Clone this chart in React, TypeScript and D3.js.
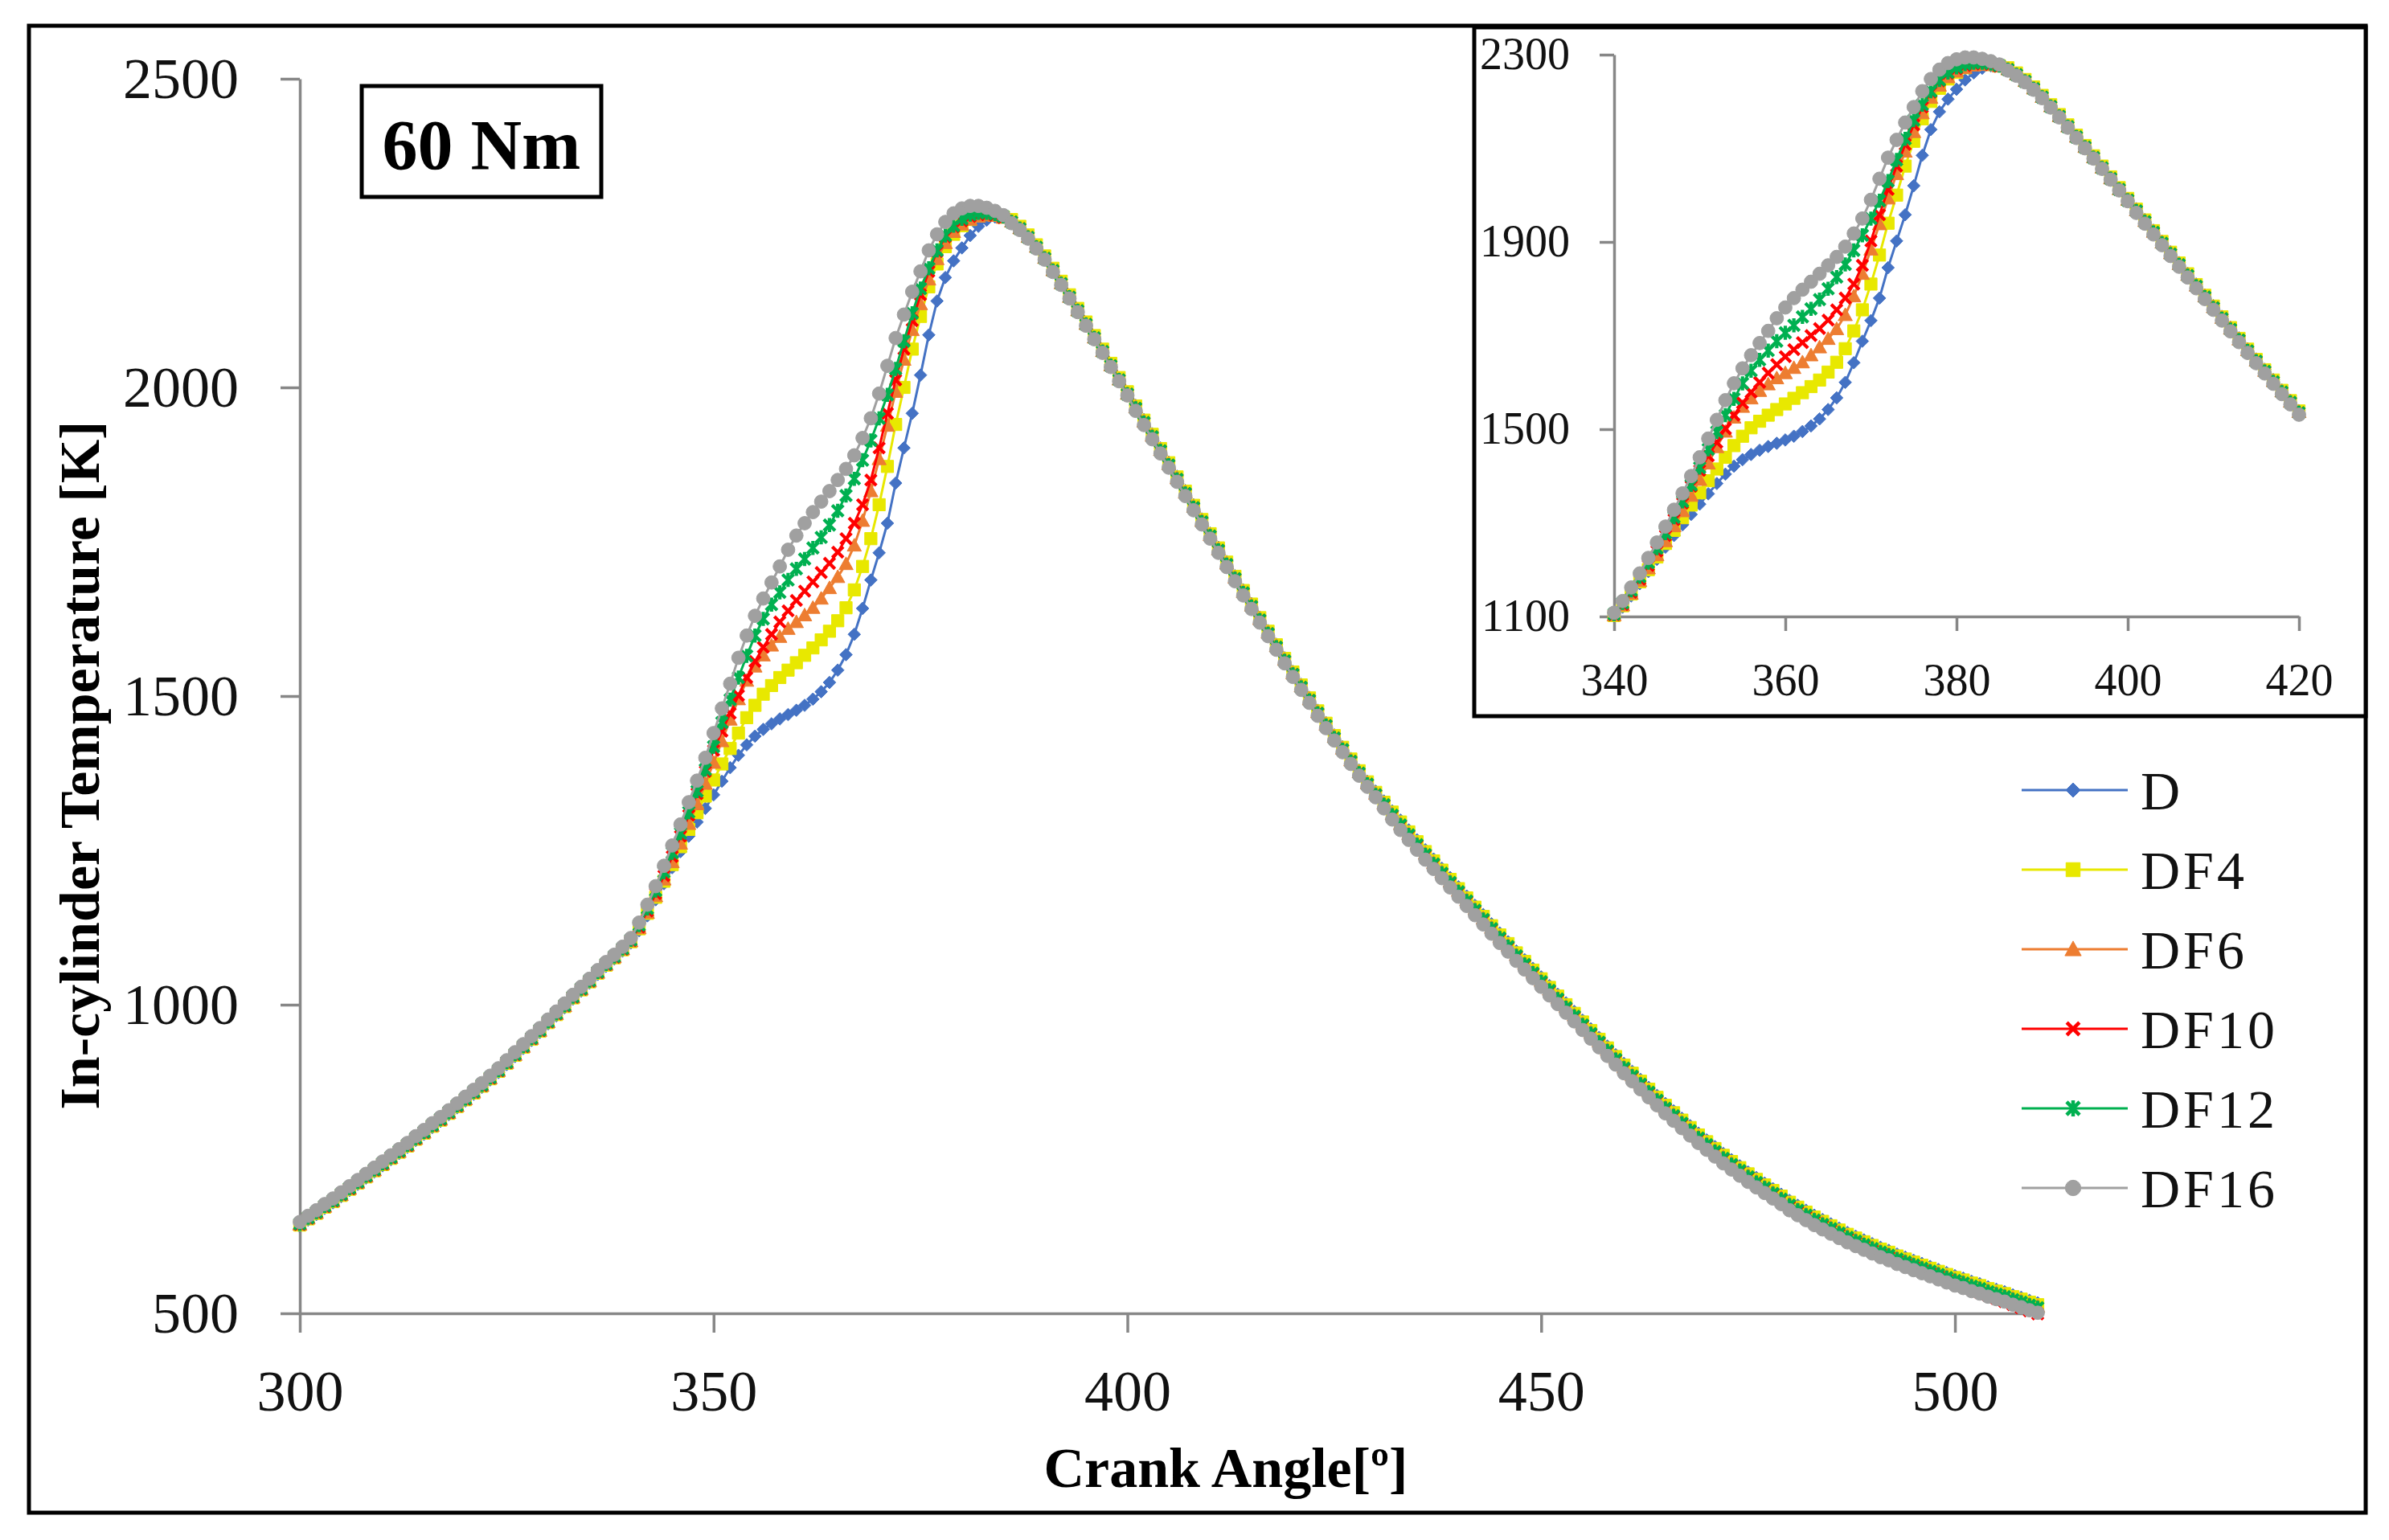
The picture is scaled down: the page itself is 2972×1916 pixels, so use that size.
import { useEffect, useRef } from "react";
import * as d3 from "d3";

// ---------------------------------------------------------------------------
// Data: in-cylinder temperature [K] per crank angle degree, 300 → 510
// ---------------------------------------------------------------------------

const CRANK_ANGLES = d3.range(300, 511);

const D = [
  641, 651, 660, 670, 679, 689, 699, 709, 719, 729,
  739, 749, 759, 769, 780, 790, 801, 811, 822, 833,
  844, 855, 866, 878, 890, 903, 916, 929, 942, 955,
  969, 982, 995, 1009, 1022, 1035, 1049, 1062, 1074, 1087,
  1100, 1120, 1144, 1170, 1196, 1222, 1248, 1273, 1296, 1318,
  1340, 1362, 1384, 1404, 1421, 1435, 1446, 1455, 1463, 1470,
  1477, 1485, 1495, 1507, 1522, 1542, 1567, 1600, 1642, 1688,
  1732, 1780, 1845, 1902, 1958, 2020, 2085, 2140, 2178, 2205,
  2226, 2246, 2261, 2271, 2276, 2276, 2270, 2259, 2245, 2229,
  2211, 2191, 2170, 2148, 2126, 2104, 2082, 2060, 2037, 2014,
  1991, 1971, 1948, 1925, 1902, 1879, 1856, 1833, 1810, 1787,
  1764, 1741, 1718, 1695, 1672, 1650, 1628, 1606, 1584, 1562,
  1540, 1519, 1498, 1477, 1457, 1437, 1418, 1399, 1380, 1362,
  1346, 1330, 1314, 1299, 1283, 1267, 1251, 1236, 1221, 1206,
  1191, 1176, 1161, 1146, 1131, 1116, 1102, 1087, 1073, 1059,
  1045, 1031, 1017, 1003, 989, 975, 961, 947, 933, 919,
  905, 892, 879, 866, 853, 840, 828, 816, 804, 792,
  781, 770, 759, 749, 739, 729, 720, 711, 702, 693,
  683, 675, 667, 659, 652, 645, 638, 631, 625, 619,
  613, 607, 602, 596, 591, 586, 581, 576, 571, 566,
  561, 557, 552, 548, 543, 539, 535, 530, 526, 521, 517,
];

const DF4 = [
  643, 653, 662, 672, 681, 691, 701, 711, 721, 731,
  741, 751, 761, 771, 782, 792, 803, 813, 824, 835,
  846, 857, 868, 880, 892, 905, 918, 931, 944, 957,
  971, 984, 997, 1011, 1024, 1037, 1051, 1064, 1076, 1089,
  1102, 1123, 1148, 1174, 1200, 1227, 1256, 1284, 1311, 1338,
  1364, 1390, 1415, 1440, 1465, 1485, 1503, 1517, 1530, 1542,
  1554, 1566, 1578, 1591, 1605, 1622, 1643, 1672, 1710, 1755,
  1810, 1872, 1940, 2000, 2062, 2115, 2163, 2200, 2228, 2248,
  2262, 2272, 2278, 2280, 2279, 2276, 2272, 2261, 2247, 2231,
  2213, 2193, 2172, 2150, 2128, 2106, 2084, 2062, 2039, 2016,
  1993, 1970, 1947, 1924, 1901, 1878, 1855, 1832, 1809, 1786,
  1763, 1740, 1717, 1694, 1671, 1649, 1627, 1605, 1583, 1561,
  1539, 1518, 1497, 1476, 1456, 1436, 1417, 1398, 1379, 1361,
  1344, 1328, 1312, 1296, 1280, 1264, 1248, 1233, 1218, 1203,
  1188, 1173, 1158, 1143, 1128, 1113, 1099, 1084, 1070, 1056,
  1042, 1028, 1014, 1000, 986, 972, 958, 944, 930, 916,
  902, 889, 876, 863, 850, 837, 825, 813, 801, 789,
  778, 767, 756, 746, 736, 726, 717, 708, 699, 690,
  680, 672, 664, 656, 649, 642, 635, 628, 622, 616,
  610, 604, 599, 593, 588, 583, 578, 573, 568, 563,
  558, 554, 549, 545, 540, 536, 532, 527, 523, 518, 514,
];

const DF6 = [
  644, 654, 663, 673, 682, 692, 702, 712, 722, 732,
  742, 752, 762, 772, 783, 793, 804, 814, 825, 836,
  847, 858, 869, 881, 893, 906, 919, 932, 945, 958,
  972, 985, 998, 1012, 1025, 1038, 1052, 1065, 1077, 1090,
  1103, 1124, 1149, 1176, 1203, 1231, 1261, 1293, 1325, 1358,
  1392, 1427, 1462, 1495, 1525, 1548, 1566, 1582, 1596, 1609,
  1620, 1631, 1643, 1658, 1675, 1693, 1714, 1744, 1784, 1832,
  1884, 1938, 1993, 2045, 2093, 2135, 2175, 2208, 2234, 2252,
  2264, 2272, 2277, 2279, 2278, 2275, 2269, 2258, 2244, 2228,
  2210, 2190, 2169, 2147, 2125, 2103, 2081, 2059, 2036, 2013,
  1990, 1968, 1945, 1922, 1899, 1876, 1853, 1830, 1807, 1784,
  1761, 1738, 1715, 1692, 1669, 1647, 1625, 1603, 1581, 1559,
  1537, 1516, 1495, 1474, 1454, 1434, 1415, 1396, 1377, 1359,
  1342, 1326, 1309, 1293, 1277, 1261, 1245, 1230, 1215, 1200,
  1185, 1170, 1155, 1140, 1125, 1110, 1096, 1081, 1067, 1053,
  1039, 1025, 1011, 997, 983, 969, 955, 941, 927, 913,
  899, 886, 873, 860, 847, 834, 822, 810, 798, 786,
  775, 764, 753, 743, 733, 723, 714, 705, 696, 687,
  677, 669, 661, 653, 646, 639, 632, 625, 619, 613,
  607, 601, 596, 590, 585, 580, 575, 570, 565, 560,
  555, 551, 546, 542, 537, 533, 529, 524, 520, 515, 511,
];

const DF10 = [
  644, 654, 663, 673, 682, 692, 702, 712, 722, 732,
  742, 752, 762, 772, 783, 793, 804, 814, 825, 836,
  847, 858, 869, 881, 893, 906, 919, 932, 945, 958,
  972, 985, 998, 1012, 1025, 1038, 1052, 1065, 1077, 1090,
  1104, 1126, 1152, 1180, 1209, 1240, 1273, 1307, 1342, 1378,
  1412, 1443, 1472, 1501, 1530, 1556, 1579, 1600, 1620, 1638,
  1655, 1670, 1685, 1700, 1715, 1733, 1755, 1780, 1810, 1850,
  1902, 1958, 2012, 2062, 2108, 2150, 2188, 2220, 2244, 2260,
  2270, 2277, 2280, 2281, 2279, 2275, 2268, 2257, 2243, 2227,
  2209, 2189, 2168, 2146, 2124, 2102, 2080, 2058, 2035, 2012,
  1989, 1966, 1943, 1920, 1897, 1874, 1851, 1828, 1805, 1782,
  1759, 1736, 1713, 1690, 1667, 1645, 1623, 1601, 1579, 1557,
  1535, 1514, 1493, 1472, 1452, 1432, 1413, 1394, 1375, 1357,
  1340, 1323, 1306, 1290, 1274, 1258, 1242, 1227, 1212, 1197,
  1182, 1167, 1152, 1137, 1122, 1107, 1093, 1078, 1064, 1050,
  1036, 1022, 1008, 994, 980, 966, 952, 938, 924, 910,
  896, 883, 870, 857, 844, 831, 819, 807, 795, 783,
  772, 761, 750, 740, 730, 720, 711, 702, 693, 684,
  673, 665, 657, 649, 642, 635, 628, 621, 615, 609,
  602, 596, 591, 585, 580, 575, 570, 565, 560, 555,
  549, 544, 539, 534, 529, 524, 519, 514, 509, 504, 499,
];

const DF12 = [
  645, 655, 664, 674, 683, 693, 703, 713, 723, 733,
  743, 753, 763, 773, 784, 794, 805, 815, 826, 837,
  848, 859, 870, 882, 894, 907, 920, 933, 946, 959,
  973, 986, 999, 1013, 1026, 1039, 1053, 1066, 1078, 1091,
  1105, 1129, 1156, 1185, 1215, 1246, 1278, 1312, 1346, 1381,
  1418, 1457, 1494, 1530, 1565, 1598, 1625, 1648, 1668, 1688,
  1706, 1722, 1740, 1757, 1777, 1800, 1825, 1852, 1882, 1914,
  1950, 1988, 2030, 2075, 2120, 2160, 2193, 2222, 2246, 2262,
  2273, 2280, 2283, 2283, 2281, 2277, 2268, 2257, 2243, 2227,
  2209, 2189, 2168, 2146, 2124, 2102, 2080, 2058, 2035, 2012,
  1989, 1966, 1943, 1920, 1897, 1874, 1851, 1828, 1805, 1782,
  1759, 1736, 1713, 1690, 1667, 1645, 1623, 1601, 1579, 1557,
  1535, 1514, 1493, 1472, 1452, 1432, 1413, 1394, 1375, 1357,
  1340, 1324, 1307, 1291, 1275, 1259, 1243, 1228, 1213, 1198,
  1183, 1168, 1153, 1138, 1123, 1108, 1094, 1079, 1065, 1051,
  1037, 1023, 1009, 995, 981, 967, 953, 939, 925, 911,
  897, 884, 871, 858, 845, 832, 820, 808, 796, 784,
  773, 762, 751, 741, 731, 721, 712, 703, 694, 685,
  675, 667, 659, 651, 644, 637, 630, 623, 617, 611,
  605, 599, 594, 588, 583, 578, 573, 568, 563, 558,
  553, 549, 544, 540, 535, 531, 527, 522, 518, 513, 509,
];

const DF16 = [
  648, 658, 667, 677, 686, 696, 706, 716, 726, 736,
  746, 756, 766, 776, 787, 797, 808, 818, 829, 840,
  851, 862, 873, 885, 897, 910, 923, 936, 949, 962,
  976, 989, 1002, 1016, 1029, 1042, 1056, 1069, 1081, 1094,
  1108, 1133, 1162, 1192, 1225, 1258, 1292, 1328, 1363, 1400,
  1440, 1480, 1520, 1562, 1598, 1630, 1658, 1684, 1710, 1737,
  1760, 1780, 1798, 1815, 1832, 1850, 1868, 1890, 1918, 1950,
  1990, 2035, 2080, 2118, 2155, 2188, 2222, 2248, 2268, 2282,
  2290, 2294, 2294, 2291, 2286, 2279, 2266, 2255, 2241, 2225,
  2207, 2187, 2166, 2144, 2122, 2100, 2078, 2056, 2033, 2010,
  1987, 1962, 1939, 1916, 1893, 1870, 1847, 1824, 1801, 1778,
  1755, 1732, 1709, 1686, 1663, 1641, 1619, 1597, 1575, 1553,
  1531, 1510, 1489, 1468, 1448, 1428, 1409, 1390, 1371, 1353,
  1336, 1318, 1300, 1283, 1267, 1251, 1235, 1220, 1205, 1190,
  1175, 1160, 1145, 1130, 1115, 1100, 1086, 1071, 1057, 1043,
  1029, 1015, 1001, 987, 973, 959, 945, 931, 917, 903,
  889, 876, 863, 850, 837, 824, 812, 800, 788, 776,
  765, 754, 743, 733, 723, 713, 704, 695, 686, 677,
  667, 659, 651, 643, 636, 629, 622, 615, 609, 603,
  597, 591, 586, 580, 575, 570, 565, 560, 555, 550,
  545, 541, 536, 532, 527, 523, 519, 514, 510, 505, 501,
];

const SERIES = [
  { name: "D", values: D, color: "#4472C4", marker: "diamond" },
  { name: "DF4", values: DF4, color: "#E8E800", marker: "square" },
  { name: "DF6", values: DF6, color: "#ED7D31", marker: "triangle" },
  { name: "DF10", values: DF10, color: "#FF0000", marker: "x" },
  { name: "DF12", values: DF12, color: "#00B050", marker: "star" },
  { name: "DF16", values: DF16, color: "#A0A0A0", marker: "circle" },
];

const MAIN_X_TICKS = [300, 350, 400, 450, 500];
const MAIN_Y_TICKS = [500, 1000, 1500, 2000, 2500];
const INSET_X_TICKS = [340, 360, 380, 400, 420];
const INSET_Y_TICKS = [1100, 1500, 1900, 2300];

const FONT = "'Liberation Serif', 'Times New Roman', serif";
const AXIS_GREY = "#878787";

// ---------------------------------------------------------------------------
// Marker shapes (Excel-like)
// ---------------------------------------------------------------------------

const STROKED = new Set(["x", "star"]);

function markerPath(kind: string, s: number): string {
  switch (kind) {
    case "diamond":
      return `M0,${-s}L${s},0L0,${s}L${-s},0Z`;
    case "square":
      return `M${-s},${-s}H${s}V${s}H${-s}Z`;
    case "triangle":
      return `M0,${-s}L${s},${s * 0.8}L${-s},${s * 0.8}Z`;
    case "x":
      return `M${-s},${-s}L${s},${s}M${s},${-s}L${-s},${s}`;
    case "star":
      return `M${-s},${-s}L${s},${s}M${s},${-s}L${-s},${s}M0,${-s * 1.25}V${s * 1.25}`;
    default:
      return d3.symbol(d3.symbolCircle, Math.PI * s * s)() ?? "";
  }
}

const MARKER_SIZE: Record<string, number> = {
  diamond: 7.8,
  square: 7.6,
  triangle: 8.8,
  x: 6.8,
  star: 7,
  circle: 8.4,
};

type Sel = d3.Selection<SVGGElement, unknown, null, undefined>;

function drawSeries(
  g: Sel,
  x: d3.ScaleLinear<number, number>,
  y: d3.ScaleLinear<number, number>,
  xMin: number,
  xMax: number
) {
  for (const s of SERIES) {
    const pts = CRANK_ANGLES.map((a, i) => [a, s.values[i]] as [number, number]).filter(
      (p) => p[0] >= xMin && p[0] <= xMax
    );
    const line = d3
      .line<[number, number]>()
      .x((d) => x(d[0]))
      .y((d) => y(d[1]));
    g.append("path")
      .attr("d", line(pts))
      .attr("fill", "none")
      .attr("stroke", s.color)
      .attr("stroke-width", 3);

    const stroked = STROKED.has(s.marker);
    g.append("g")
      .selectAll("path")
      .data(pts)
      .join("path")
      .attr("transform", (d) => `translate(${x(d[0])},${y(d[1])})`)
      .attr("d", markerPath(s.marker, MARKER_SIZE[s.marker]))
      .attr("fill", stroked ? "none" : s.color)
      .attr("stroke", s.color)
      .attr("stroke-width", stroked ? 4.2 : 1);
  }
}

function styleAxis(sel: Sel, fontSize: number) {
  sel.select(".domain").attr("stroke", AXIS_GREY).attr("stroke-width", 3.5);
  sel.selectAll(".tick line").attr("stroke", AXIS_GREY).attr("stroke-width", 3.5);
  sel
    .selectAll(".tick text")
    .attr("fill", "#111")
    .attr("font-size", fontSize)
    .attr("font-family", FONT);
}

export default function App() {
  const svgRef = useRef<SVGSVGElement>(null);

  useEffect(() => {
    document.body.style.margin = "0";
    const svg = d3.select(svgRef.current);
    svg.selectAll("*").remove();
    const root = svg.append("g") as unknown as Sel;
    const fmt = d3.format("d");

    root.append("rect").attr("width", 2972).attr("height", 1916).attr("fill", "#fff");

    // ---- Outer frame ----
    root
      .append("rect")
      .attr("x", 36)
      .attr("y", 32)
      .attr("width", 2907)
      .attr("height", 1850)
      .attr("fill", "none")
      .attr("stroke", "#000")
      .attr("stroke-width", 5);

    // ---- Main chart ----
    const x = d3.scaleLinear().domain([300, 510]).range([373, 2535]);
    const y = d3.scaleLinear().domain([500, 2500]).range([1634, 98]);

    root
      .append("g")
      .attr("transform", "translate(0,1634)")
      .call(
        d3
          .axisBottom(x)
          .tickValues(MAIN_X_TICKS)
          .tickFormat((d) => fmt(d as number))
          .tickSize(24)
          .tickSizeOuter(0)
          .tickPadding(46)
      )
      .call((sel) => styleAxis(sel as unknown as Sel, 72));

    root
      .append("g")
      .attr("transform", "translate(373,0)")
      .call(
        d3
          .axisLeft(y)
          .tickValues(MAIN_Y_TICKS)
          .tickFormat((d) => fmt(d as number))
          .tickSize(24)
          .tickSizeOuter(0)
          .tickPadding(52)
      )
      .call((sel) => styleAxis(sel as unknown as Sel, 72));

    root
      .append("text")
      .attr("x", 1525)
      .attr("y", 1850)
      .attr("text-anchor", "middle")
      .attr("font-family", FONT)
      .attr("font-weight", "bold")
      .attr("font-size", 70)
      .text("Crank Angle[º]");

    root
      .append("text")
      .attr("transform", "translate(123,952) rotate(-90)")
      .attr("text-anchor", "middle")
      .attr("font-family", FONT)
      .attr("font-weight", "bold")
      .attr("font-size", 70)
      .text("In-cylinder Temperature [K]");

    drawSeries(root.append("g") as unknown as Sel, x, y, 300, 510);

    // ---- Load label ----
    root
      .append("rect")
      .attr("x", 450)
      .attr("y", 107)
      .attr("width", 298)
      .attr("height", 138)
      .attr("fill", "#fff")
      .attr("stroke", "#000")
      .attr("stroke-width", 5);
    root
      .append("text")
      .attr("x", 599)
      .attr("y", 210)
      .attr("text-anchor", "middle")
      .attr("font-family", FONT)
      .attr("font-weight", "bold")
      .attr("font-size", 88)
      .text("60 Nm");

    // ---- Legend ----
    const legend = root.append("g");
    SERIES.forEach((s, i) => {
      const ly = 983 + i * 99;
      legend
        .append("line")
        .attr("x1", 2515)
        .attr("x2", 2647)
        .attr("y1", ly)
        .attr("y2", ly)
        .attr("stroke", s.color)
        .attr("stroke-width", 3);
      const stroked = STROKED.has(s.marker);
      legend
        .append("path")
        .attr("transform", `translate(2579,${ly})`)
        .attr("d", markerPath(s.marker, MARKER_SIZE[s.marker] * 1.15))
        .attr("fill", stroked ? "none" : s.color)
        .attr("stroke", s.color)
        .attr("stroke-width", stroked ? 4.5 : 1);
      legend
        .append("text")
        .attr("x", 2663)
        .attr("y", ly + 24)
        .attr("font-family", FONT)
        .attr("font-size", 68)
        .attr("letter-spacing", 4)
        .attr("fill", "#111")
        .text(s.name);
    });

    // ---- Inset (zoom on combustion) ----
    root
      .append("rect")
      .attr("x", 1834)
      .attr("y", 34)
      .attr("width", 1109)
      .attr("height", 857)
      .attr("fill", "#fff")
      .attr("stroke", "#000")
      .attr("stroke-width", 5);

    const xi = d3.scaleLinear().domain([340, 420]).range([2008, 2860]);
    const yi = d3.scaleLinear().domain([1100, 2300]).range([767, 68]);

    root
      .append("g")
      .attr("transform", "translate(0,767)")
      .call(
        d3
          .axisBottom(xi)
          .tickValues(INSET_X_TICKS)
          .tickFormat((d) => fmt(d as number))
          .tickSize(18)
          .tickSizeOuter(0)
          .tickPadding(40)
      )
      .call((sel) => styleAxis(sel as unknown as Sel, 56));

    root
      .append("g")
      .attr("transform", "translate(2008,0)")
      .call(
        d3
          .axisLeft(yi)
          .tickValues(INSET_Y_TICKS)
          .tickFormat((d) => fmt(d as number))
          .tickSize(18)
          .tickSizeOuter(0)
          .tickPadding(37)
      )
      .call((sel) => styleAxis(sel as unknown as Sel, 56));

    drawSeries(root.append("g") as unknown as Sel, xi, yi, 340, 420);
  }, []);

  return <svg ref={svgRef} width={2972} height={1916} style={{ display: "block" }} />;
}
